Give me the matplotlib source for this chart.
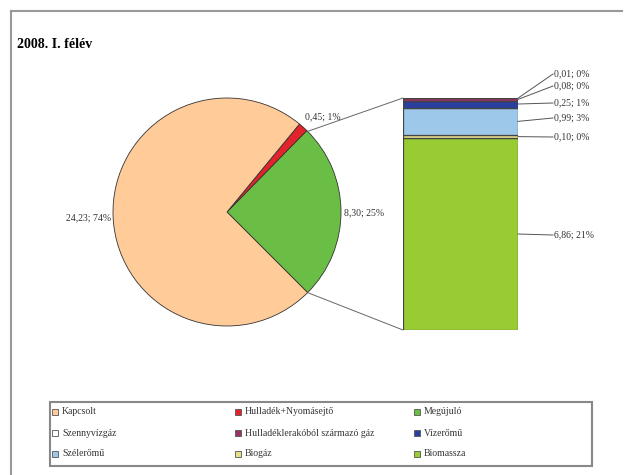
import math
import matplotlib
matplotlib.use("Agg")
import matplotlib.pyplot as plt
from matplotlib.patches import Rectangle, ConnectionPatch
from matplotlib.lines import Line2D

plt.rcParams['font.family'] = ['Liberation Serif', 'DejaVu Serif']

# main pie
pie_names = ["Megújuló", "Hulladék+Nyomásejtő", "Kapcsolt"]
pie_values = [8.30, 0.45, 24.23]
pie_colors = ["#6BBE45", "#E3232B", "#FFCC99"]
pie_labels = ["8,30; 25%", "0,45; 1%", "24,23; 74%"]

# breakdown of Megújuló (bottom to top)
bar_names = ["Biomassza", "Biogáz", "Szélerőmű", "Vízerőmű",
             "Hulladéklerakóból származó gáz", "Szennyvízgáz"]
bar_values = [6.86, 0.10, 0.99, 0.25, 0.08, 0.01]
bar_colors = ["#99CC33", "#E8DF8A", "#9DC8EA", "#2B3F9E", "#993366", "#FFFFFF"]
bar_labels = ["6,86; 21%", "0,10; 0%", "0,99; 3%", "0,25; 1%", "0,08; 0%", "0,01; 0%"]

# legend order (row by row as in the original)
legend_names = ["Kapcsolt", "Hulladék+Nyomásejtő", "Megújuló",
                "Szennyvízgáz", "Hulladéklerakóból származó gáz", "Vízerőmű",
                "Szélerőmű", "Biogáz", "Biomassza"]
legend_colors = ["#FFCC99", "#E3232B", "#6BBE45",
                 "#FFFFFF", "#993366", "#2B3F9E",
                 "#9DC8EA", "#E8DF8A", "#99CC33"]

W, H = 627, 475
fig = plt.figure(figsize=(W / 100, H / 100), dpi=100)


def fx(x):
    return x / W


def fy(y):
    return 1 - y / H


# outer frame
fig.add_artist(Line2D([fx(11), fx(11)], [fy(11), 0], color="#999999", lw=1.5))
fig.add_artist(Line2D([fx(11), fx(622)], [fy(11), fy(11)], color="#999999", lw=1.5))

fig.text(fx(17), fy(45), "2008. I. félév", fontsize=10, fontweight="bold",
         va="center", ha="left")

# pie
cx, cy, r = 227, 212, 114
ax = fig.add_axes([fx(cx - r), fy(cy + r), 2 * r / W, 2 * r / H])
wedges, _ = ax.pie(pie_values, colors=pie_colors, startangle=-45,
                   counterclock=True,
                   wedgeprops=dict(edgecolor="#333333", linewidth=0.6))
ax.set_xlim(-1, 1)
ax.set_ylim(-1, 1)
ax.set_aspect("equal")
ax.axis("off")

fig.text(fx(344), fy(213), pie_labels[0], fontsize=7, va="center", ha="left", color="#333333")
fig.text(fx(305), fy(117), pie_labels[1], fontsize=7, va="center", ha="left", color="#333333")
fig.text(fx(111), fy(218), pie_labels[2], fontsize=7, va="center", ha="right", color="#333333")

# stacked bar
bx0, bx1, by0, by1 = 403, 518, 98, 330
bax = fig.add_axes([fx(bx0), fy(by1), (bx1 - bx0) / W, (by1 - by0) / H])
bottom = 0
for v, c in zip(bar_values, bar_colors):
    bax.bar(0, v, bottom=bottom, width=1, color=c, edgecolor="#444444", linewidth=0.9)
    bottom += v
bax.set_xlim(-0.5, 0.5)
bax.set_ylim(0, sum(bar_values))
bax.axis("off")

# connector lines pie -> bar
for ang, yb in [(45, 1), (-45, 0)]:
    px, py = math.cos(math.radians(ang)), math.sin(math.radians(ang))
    con = ConnectionPatch(xyA=(px, py), coordsA=ax.transData,
                          xyB=(0, yb), coordsB=bax.transAxes,
                          color="#666666", lw=0.7)
    fig.add_artist(con)

# bar labels with straight leader lines
label_y = [235, 137, 118, 103, 86, 74]
bottom = 0
for v, lab, ly in zip(bar_values, bar_labels, label_y):
    mid = bottom + v / 2
    bottom += v
    ydisp = bax.transData.transform((0.5, mid))[1]
    ypix = H - ydisp
    fig.add_artist(Line2D([fx(bx1), fx(553)], [fy(ypix), fy(ly)],
                          color="#555555", lw=0.7))
    fig.text(fx(554), fy(ly), lab, fontsize=7, va="center", ha="left", color="#333333")

# legend box
fig.add_artist(Rectangle((fx(50), fy(466)), (592 - 50) / W, (466 - 402) / H,
                         fill=False, edgecolor="#888888", lw=1.5))
col_x = [55, 238, 417]
row_y = [412, 433, 454]
for i, (name, c) in enumerate(zip(legend_names, legend_colors)):
    x = col_x[i % 3]
    y = row_y[i // 3]
    fig.add_artist(Rectangle((fx(x - 3), fy(y + 3)), 6 / W, 6 / H,
                             facecolor=c, edgecolor="#555555", lw=0.6))
    fig.text(fx(x + 7), fy(y), name, fontsize=7, va="center", ha="left", color="#333333")

fig.savefig("out.png", dpi=100)
